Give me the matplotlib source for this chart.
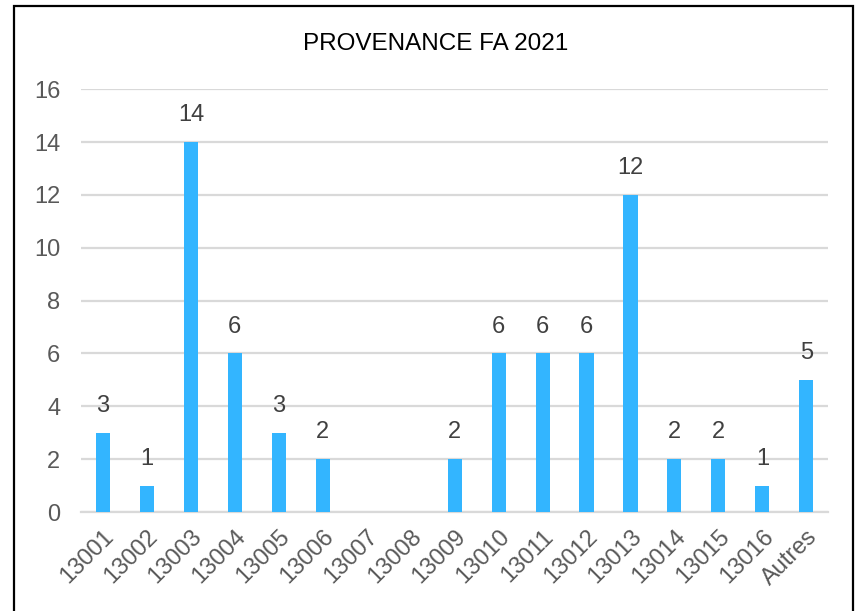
import matplotlib.pyplot as plt
from matplotlib.patches import Rectangle

categories = ['13001', '13002', '13003', '13004', '13005', '13006', '13007',
              '13008', '13009', '13010', '13011', '13012', '13013', '13014',
              '13015', '13016', 'Autres']
values = [3, 1, 14, 6, 3, 2, 0, 0, 2, 6, 6, 6, 12, 2, 2, 1, 5]

plt.rcParams['font.family'] = ['Liberation Sans', 'DejaVu Sans']

fig = plt.figure(figsize=(8.57, 6.11), dpi=100)
ax = fig.add_axes([0.0945, 0.162, 0.872, 0.692])

x = range(len(categories))
bars = ax.bar(x, values, width=0.32, color='#33B5FF', zorder=3)

for xi, v in zip(x, values):
    if v > 0:
        ax.text(xi, v + 0.6, str(v), ha='center', va='bottom',
                fontsize=17, color='#404040')

ax.set_ylim(0, 16)
ax.set_xlim(-0.5, len(categories) - 0.5)
ax.set_yticks(range(0, 17, 2))
ax.yaxis.grid(True, color='#d9d9d9', linewidth=1.6, zorder=0)
ax.set_axisbelow(True)
for side in ['top', 'right', 'left']:
    ax.spines[side].set_visible(False)
ax.spines['bottom'].set_color('#d9d9d9')
ax.spines['bottom'].set_linewidth(1.6)
ax.tick_params(length=0, labelsize=17, labelcolor='#595959')
ax.tick_params(axis='y', pad=15)
ax.set_xticks(list(x))
ax.set_xticklabels(categories, rotation=45, ha='right', rotation_mode='anchor')
ax.tick_params(axis='x', pad=10)

fig.text(0.508, 0.928, 'PROVENANCE FA 2021', ha='center', va='center',
         fontsize=17.5, color='black')

# chart border
fig.patches.append(Rectangle((0.016, -0.02), 0.979, 1.01, transform=fig.transFigure,
                             fill=False, edgecolor='black', linewidth=1.6))

fig.savefig('out.png', dpi=100)
